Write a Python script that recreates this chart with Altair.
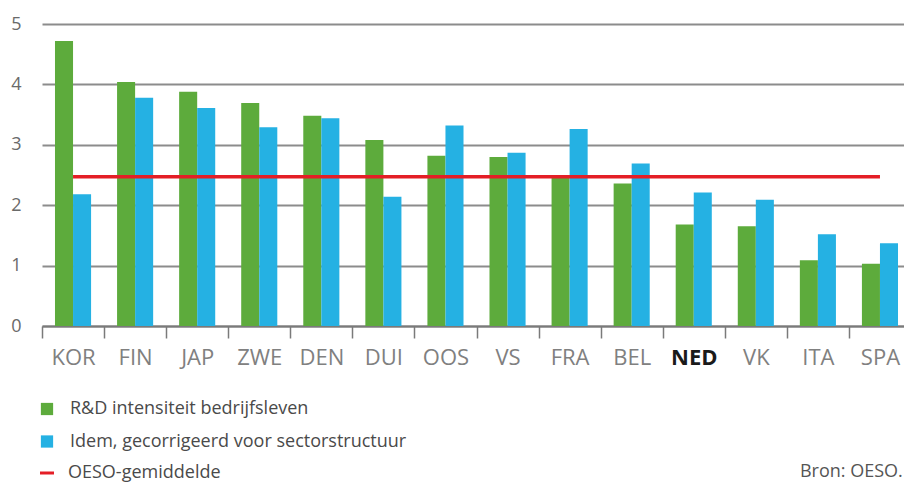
import altair as alt
import pandas as pd

landen = ["KOR", "FIN", "JAP", "ZWE", "DEN", "DUI", "OOS", "VS", "FRA", "BEL", "NED", "VK", "ITA", "SPA"]
rd_intensiteit = [4.72, 4.04, 3.88, 3.69, 3.48, 3.08, 2.82, 2.80, 2.47, 2.36, 1.68, 1.65, 1.09, 1.03]
gecorrigeerd = [2.18, 3.78, 3.61, 3.29, 3.44, 2.14, 3.32, 2.87, 3.26, 2.69, 2.21, 2.09, 1.52, 1.37]
series = ["R&D intensiteit bedrijfsleven", "Idem, gecorrigeerd voor sectorstructuur"]
oeso_label = "OESO-gemiddelde"
oeso_waarde = 2.47
bron = "Bron: OESO."

GREEN = "#5dab3c"
BLUE = "#25b1e3"
RED = "#e41e26"
FONT = "Open Sans"

rows = []
for land, a, b in zip(landen, rd_intensiteit, gecorrigeerd):
    rows.append({"land": land, "serie": series[0], "waarde": a})
    rows.append({"land": land, "serie": series[1], "waarde": b})
df = pd.DataFrame(rows)
df_oeso = pd.DataFrame([{"start": landen[0], "eind": landen[-1], "waarde": oeso_waarde, "label": oeso_label}])

# band step as in the reference (~62 px); the last band runs slightly past the frame edge
x_scale = alt.Scale(domain=landen, paddingInner=0, paddingOuter=0, range=[0, 869])
y_scale = alt.Scale(domain=[0, 5])

bars = alt.Chart(df).mark_bar().encode(
    x=alt.X("land:N", scale=x_scale, title=None,
            axis=alt.Axis(tickBand="extent", tickSize=12, tickWidth=1.5, tickColor="#7a7a7a",
                          domainColor="#7a7a7a", domainWidth=2, labelAngle=0,
                          labelFontSize=22, labelFont=FONT, labelPadding=9,
                          labelColor={"expr": "datum.value == 'NED' ? '#1a1a1a' : '#808080'"},
                          labelFontWeight={"expr": "datum.value == 'NED' ? 'bold' : 'normal'"})),
    xOffset=alt.XOffset("serie:N", scale=alt.Scale(domain=series, paddingInner=0, paddingOuter=0.72)),
    y=alt.Y("waarde:Q", scale=y_scale, title=None,
            axis=alt.Axis(values=[0, 1, 2, 3, 4, 5], format="d", grid=True, gridColor="#8c8c8c",
                          gridWidth=2, domain=False, ticks=False, labelPadding=21, labelFontSize=18,
                          labelFont=FONT, labelColor="#6a6a6a")),
    fill=alt.Fill("serie:N",
                  scale=alt.Scale(domain=series, range=[GREEN, BLUE]),
                  legend=alt.Legend(title=None, orient="none", legendX=-4, legendY=376,
                                    symbolType="square", symbolSize=150, symbolStrokeWidth=0,
                                    labelFontSize=18, labelFont=FONT, labelColor="#4a4a4a",
                                    labelLimit=600, labelOffset=14, rowPadding=14.5, padding=0)),
)

rule = alt.Chart(df_oeso).mark_rule(strokeWidth=3.5).encode(
    x=alt.X("start:N", scale=x_scale),
    x2="eind:N",
    y=alt.Y("waarde:Q", scale=y_scale),
    stroke=alt.Stroke("label:N", scale=alt.Scale(domain=[oeso_label], range=[RED]),
                      legend=alt.Legend(title=None, orient="none", legendX=-4, legendY=440,
                                        symbolType="stroke", symbolSize=196, symbolStrokeWidth=3,
                                        labelFontSize=18, labelFont=FONT, labelColor="#4a4a4a",
                                        labelLimit=600, labelOffset=12, padding=0)),
)

chart = alt.layer(bars, rule).properties(
    width=862, height=302,
    autosize=alt.AutoSizeParams(type="none"),
    padding={"left": 34, "top": 16, "right": 0, "bottom": 157},
    title=alt.Title(bron, orient="top", anchor="end", fontSize=18, font=FONT,
                    fontWeight="normal", color="#555555", offset=4, dy=470, dx=-9),
).configure_view(stroke=None)

chart.save("out.html", embed_options={"renderer": "svg", "actions": False})
